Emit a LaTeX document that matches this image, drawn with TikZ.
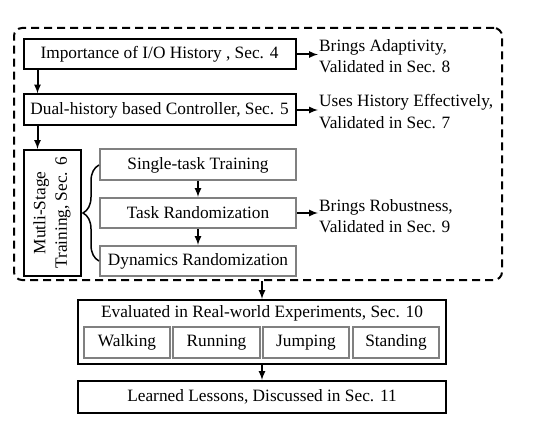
\documentclass[tikz,border=0pt]{standalone}
\usepackage{fontspec}
\setmainfont{Liberation Serif}
\usetikzlibrary{positioning,decorations.pathreplacing}

\tikzset{
  every node/.style={font=\fontsize{17.3}{21.5}\selectfont, inner sep=1pt},
  blackbox/.style={draw, line width=2pt},
  graybox/.style={draw=gray, line width=2pt},
  sidenote/.style={anchor=west, align=left},
  flow/.style={-latex, line width=2pt}
}

\begin{document}
\begin{tikzpicture}[x=1pt,y=-1pt]
  \useasboundingbox (0,0) rectangle (534,435);

  % dashed frame around the method part
  \node[draw, dashed, line width=2pt, dash pattern=on 8pt off 5pt, rounded corners=8pt,
        minimum width=488pt, minimum height=252pt] (frame) at (258,154) {};

  \node[blackbox, minimum width=272pt, minimum height=30pt] (imp) at (159.5,54.5) {Importance of I/O History , Sec. 4};
  \node[blackbox, minimum width=272pt, minimum height=31pt] (dual) at (159.5,110) {Dual-history based Controller, Sec. 5};
  \node[blackbox, rotate=90, align=center, minimum width=126pt, minimum height=57pt] (multi) at (52,213) {Mutli-Stage\\Training, Sec. 6};

  \node[graybox, minimum width=196pt, minimum height=31pt] (single) at (198,165) {Single-task Training};
  \node[graybox, minimum width=196pt, minimum height=30pt] (taskr) at (198,213) {Task Randomization};
  \node[graybox, minimum width=196pt, minimum height=30pt] (dyn) at (198,261) {Dynamics Randomization};

  \node[sidenote] (adapt) at (318,56) {Brings Adaptivity,\\Validated in Sec. 8};
  \node[sidenote] (uses) at (318,111.5) {Uses History Effectively,\\Validated in Sec. 7};
  \node[sidenote] (robust) at (318,216) {Brings Robustness,\\Validated in Sec. 9};

  % experiments and lessons
  \node[blackbox, minimum width=368pt, minimum height=64pt] (eval) at (262,332) {};
  \node (evaltitle) at (262,313) {Evaluated in Real-world Experiments, Sec. 10};
  \node[graybox, minimum width=86pt, minimum height=31pt] (walk) at (127,342.5) {Walking};
  \node[graybox, minimum width=87pt, minimum height=31pt] (run) at (216.5,342.5) {Running};
  \node[graybox, minimum width=86pt, minimum height=31pt] (jump) at (306,342.5) {Jumping};
  \node[graybox, minimum width=86pt, minimum height=31pt] (stand) at (396,342.5) {Standing};
  \node[blackbox, minimum width=368pt, minimum height=32pt] (lessons) at (262,397) {Learned Lessons, Discussed in Sec. 11};

  \draw[flow] ([xshift=15pt]imp.south west) -- ([xshift=15pt]imp.south west |- dual.north);
  \draw[flow] ([xshift=15pt]dual.south west) -- ([xshift=15pt]dual.south west |- multi.east);
  \draw[flow] (single.south) -- (taskr.north);
  \draw[flow] (taskr.south) -- (dyn.north);

  \draw[flow] (imp.east) -- (imp.east -| adapt.west);
  \draw[flow] (dual.east) -- (dual.east -| uses.west);
  \draw[flow] (taskr.east) -- (taskr.east -| robust.west);

  \draw[line width=1.5pt, decorate, decoration={brace, amplitude=16pt}] (dyn.west) -- (single.west);

  \draw[flow] (frame.south -| eval.north) -- (eval.north);
  \draw[flow] (eval.south) -- (lessons.north);
\end{tikzpicture}
\end{document}
